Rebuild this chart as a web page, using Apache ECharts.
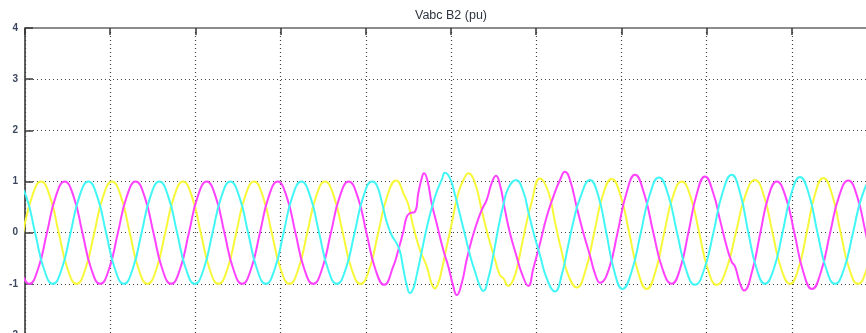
<!DOCTYPE html>
<html>
<head>
<meta charset="utf-8">
<script src="https://cdn.jsdelivr.net/npm/echarts@6/dist/echarts.min.js"></script>
<style>
html,body{margin:0;padding:0;background:#fff;}
#chart{width:866px;height:333px;}
</style>
</head>
<body>
<div id="chart"></div>
<script>
// Time in ms, voltage in pu
var titleText = 'Vabc B2 (pu)';
var yMin = -2, yMax = 4, yStep = 1;
var xMin = 0, xMax = 200, xStep = 20;

var phaseA = [ // yellow
[-0.41,0],[1.67,0.71],[3.76,1],[5.84,0.71],[7.92,0],[10.01,-0.71],[12.09,-1],[14.17,-0.71],
[16.26,0],[18.34,0.71],[20.42,1],[22.51,0.71],[24.59,0],[26.67,-0.71],[28.76,-1],[30.84,-0.71],
[32.92,0],[35.01,0.71],[37.09,1],[39.17,0.71],[41.26,0],[43.34,-0.71],[45.42,-1],[47.51,-0.71],
[49.59,0],[51.67,0.71],[53.76,1],[55.84,0.71],[57.92,0],[60.01,-0.71],[62.09,-1],[64.17,-0.71],
[66.26,0],[68.34,0.71],[70.42,1],[72.51,0.71],[74.59,0],[76.67,-0.71],[78.76,-1],[80.84,-0.71],
[82.92,0],[85.01,0.71],[87.09,1.02],
[89.20,0.70],[89.98,0.55],[91.15,0.12],[92.72,-0.34],[94.30,-0.66],[95.47,-1.0],[96.24,-1.09],
[97.02,-0.98],[97.82,-0.73],[98.99,-0.27],[100.17,0.18],[101.71,0.77],[103.28,1.09],[104.06,1.16],
[105.63,0.97],[107.20,0.44],[108.76,-0.08],[110.33,-0.53],[111.50,-0.83],[112.28,-0.89],[113.45,-1.04],
[114.62,-0.92],[115.73,-0.6],[116.97,-0.1],[118.94,0.6],[120.89,1.06],[122.84,0.8],[124.41,0.21],
[125.98,-0.37],[127.53,-0.83],[129.51,-1.07],
[131.56,-0.74],[133.62,0],[135.67,0.74],[137.72,1.05],[139.78,0.73],[141.83,0],[143.89,-0.76],
[145.94,-1.1],[147.99,-0.76],[150.05,0],[152.10,0.71],[154.15,1.0],[156.21,0.71],[158.26,0],
[160.32,-0.72],[162.37,-1.02],[164.62,-0.72],[166.87,0],[169.11,0.73],[171.36,1.03],[173.42,0.73],
[175.47,0],[177.53,-0.71],[179.58,-1.0],[181.53,-0.71],[183.49,0],[185.44,0.75],[187.39,1.07],
[189.43,0.75],[191.47,0],[193.50,-0.71],[195.54,-1.0],[197.59,-0.71],[199.64,0],[201.70,0.71]
];

var phaseB = [ // magenta
[-1.10,-0.71],[0.98,-1],[3.06,-0.71],[5.15,0],[7.23,0.71],[9.31,1],[11.40,0.71],[13.48,0],
[15.56,-0.71],[17.65,-1],[19.73,-0.71],[21.81,0],[23.90,0.71],[25.98,1],[28.06,0.71],[30.15,0],
[32.23,-0.71],[34.31,-1],[36.40,-0.71],[38.48,0],[40.56,0.71],[42.65,1],[44.73,0.71],[46.81,0],
[48.90,-0.71],[50.98,-1],[53.06,-0.71],[55.15,0],[57.23,0.71],[59.31,1],[61.40,0.71],[63.48,0],
[65.56,-0.71],[67.65,-1],[69.73,-0.71],[71.81,0],[73.90,0.71],[75.98,1],[78.06,0.71],[80.15,0],
[82.23,-0.71],[84.31,-1.02],
[86.45,-0.66],[87.63,-0.34],[88.80,0.02],[89.60,0.31],[90.37,0.38],[91.55,0.41],[92.32,0.77],
[93.12,1.06],[93.66,1.16],[94.44,1.03],[95.47,0.57],[96.64,0.18],[98.19,-0.34],[99.37,-0.66],
[100.54,-1.05],[101.34,-1.22],[102.51,-0.99],[103.68,-0.53],[104.86,-0.14],[106.03,0.18],[107.20,0.44],
[108.38,0.64],[109.55,0.97],[110.56,1.11],[111.50,0.93],[112.68,0.44],[113.85,-0.01],[115.42,-0.47],
[116.60,-0.79],[118.15,-1.04],[119.32,-0.7],[120.89,-0.21],[122.46,0.31],[124.01,0.7],[125.58,1.03],
[126.76,1.19],[127.93,1.03],[129.51,0.5],[131.06,0.0],[132.63,-0.45],[133.80,-0.8],[134.98,-0.98],
[137.03,-0.72],[139.09,0],[141.14,0.76],[143.19,1.13],[145.35,0.76],[147.50,0],[149.66,-0.71],
[151.81,-1.0],[153.76,-0.71],[155.72,0],[157.67,0.75],[159.62,1.1],[161.57,0.77],[163.14,0.25],
[164.71,-0.27],[165.89,-0.57],[166.66,-0.66],[167.84,-0.99],[168.78,-1.13],[170.70,-0.75],[172.62,0],
[174.53,0.71],[176.45,1.0],[178.52,0.71],[180.60,0],[182.67,-0.76],[184.74,-1.1],[186.87,-0.76],
[189.00,0],[191.13,0.72],[193.26,1.02],[195.30,0.72],[197.34,0],[199.37,-0.71],[201.41,-1.0]
];

var phaseC = [ // cyan
[-1.80,1],[0.28,0.71],[2.37,0],[4.45,-0.71],[6.53,-1],[8.62,-0.71],[10.70,0],[12.78,0.71],
[14.87,1],[16.95,0.71],[19.03,0],[21.12,-0.71],[23.20,-1],[25.28,-0.71],[27.37,0],[29.45,0.71],
[31.53,1],[33.62,0.71],[35.70,0],[37.78,-0.71],[39.87,-1],[41.95,-0.71],[44.03,0],[46.12,0.71],
[48.20,1],[50.28,0.71],[52.37,0],[54.45,-0.71],[56.53,-1],[58.62,-0.71],[60.70,0],[62.78,0.71],
[64.87,1],[66.95,0.71],[69.03,0],[71.12,-0.71],[73.20,-1],[75.28,-0.71],[77.37,0],[79.45,0.71],
[81.53,1],
[82.56,0.93],[83.73,0.61],[84.91,0.21],[86.08,-0.05],[87.25,-0.21],[88.03,-0.37],[88.80,-0.70],
[89.60,-1.02],[90.37,-1.18],[91.15,-1.09],[91.95,-0.83],[93.12,-0.37],[94.30,0.09],[95.47,0.48],
[96.64,0.80],[97.82,1.03],[98.59,1.17],[99.77,1.06],[100.94,0.74],[102.11,0.35],[103.28,-0.04],
[104.46,-0.44],[105.63,-0.76],[106.81,-1.05],[107.58,-1.14],[108.76,-0.89],[109.93,-0.44],[111.10,0.09],
[112.28,0.54],[113.45,0.87],[115.26,1.03],[116.97,0.8],[118.15,0.41],[119.32,0.02],[120.89,-0.44],
[122.46,-0.89],[124.41,-1.15],[125.98,-0.83],[127.53,-0.24],[128.71,0.21],[130.28,0.67],[132.63,1.03],
[134.54,0.73],[136.45,0],[138.35,-0.76],[140.26,-1.1],[142.40,-0.76],[144.55,0],[146.69,0.75],
[148.83,1.08],[150.94,0.75],[153.06,0],[155.17,-0.72],[157.28,-1.02],[159.43,-0.72],[161.59,0],
[163.74,0.78],[165.89,1.13],[167.85,0.78],[169.80,0],[171.76,-0.71],[173.71,-1.0],[175.76,-0.71],
[177.82,0],[179.87,0.76],[181.92,1.09],[183.98,0.76],[186.03,0],[188.09,-0.71],[190.14,-1.0],
[192.25,-0.71],[194.37,0],[196.48,0.71],[198.59,1.0],[200.67,0.71],[202.75,0]
];

var seriesNames = ['Va', 'Vb', 'Vc'];
var seriesColors = ['#f8f83a', '#ff42ff', '#42f6f6'];
var seriesData = [phaseA, phaseB, phaseC];

var chart = echarts.init(document.getElementById('chart'), null, {renderer: 'canvas'});
var dotted = {color: '#444', type: [1, 3], width: 1.2};
chart.setOption({
  animation: false,
  backgroundColor: '#ffffff',
  graphic: [{
    type: 'text', x: 451, y: 16, z: 10,
    style: {text: titleText, textAlign: 'center', textVerticalAlign: 'middle',
      font: '12.5px "Liberation Sans", Arial, sans-serif', fill: '#2e3440'}
  }],
  grid: {left: 25, top: 28, right: -11, bottom: -2, containLabel: false, outerBoundsMode: 'none'},
  xAxis: {
    type: 'value', position: 'top', min: xMin, max: xMax, interval: xStep,
    axisLine: {show: true, onZero: false, lineStyle: {color: '#8c8c8c', width: 2.2}},
    axisTick: {show: true, inside: true, length: 7, lineStyle: {color: '#333', width: 1.5}},
    axisLabel: {show: false},
    splitLine: {show: true, lineStyle: dotted}
  },
  yAxis: {
    type: 'value', min: yMin, max: yMax, interval: yStep,
    axisLine: {show: true, onZero: false, lineStyle: {color: '#3a3a3a', width: 1.6}},
    axisTick: {show: true, inside: true, length: 8, lineStyle: {color: '#3a3a3a', width: 1.5}},
    axisLabel: {color: '#3c475e', fontSize: 10, fontWeight: 'bold', margin: 7,
      fontFamily: '"Liberation Sans", Arial, sans-serif'},
    splitLine: {show: true, lineStyle: dotted}
  },
  series: seriesData.map(function (d, i) {
    return {
      name: seriesNames[i], type: 'line', data: d, smooth: 0.5, symbol: 'none',
      lineStyle: {color: seriesColors[i], width: 2}, z: 3 + i
    };
  })
});
</script>
</body>
</html>
